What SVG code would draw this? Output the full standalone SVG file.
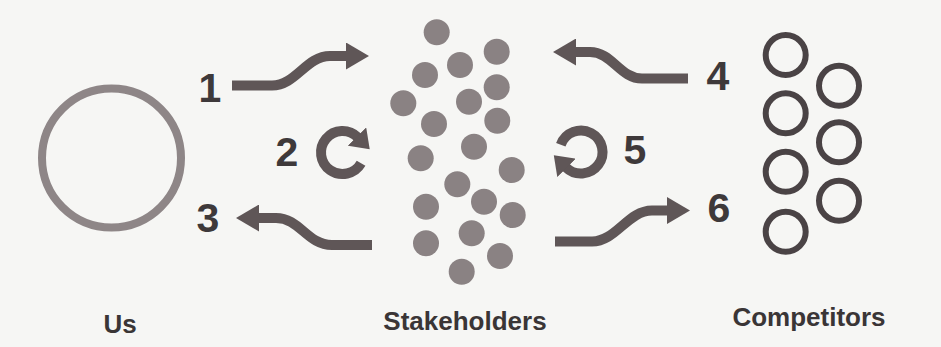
<svg xmlns="http://www.w3.org/2000/svg" width="941" height="347" viewBox="0 0 941 347">
  <defs>
    <style>
      .dot { fill: #8a8283; }
      .comp { fill: none; stroke: #4a4345; stroke-width: 6; }
      .flow { fill: none; stroke: #5f5657; stroke-width: 10; stroke-linecap: butt; }
      .num { font-family: "Liberation Sans", Arial, sans-serif; font-weight: bold; font-size: 41px; fill: #3e393a; text-anchor: middle; }
      .name { font-family: "Liberation Sans", Arial, sans-serif; font-weight: bold; font-size: 26px; fill: #3a3536; text-anchor: middle; }
    </style>
    <marker id="head" viewBox="0 0 23 27" refX="1" refY="13.5" markerWidth="23" markerHeight="27" markerUnits="userSpaceOnUse" orient="auto">
      <path d="M0,0 L23,13.5 L0,27 Z" fill="#5f5657"/>
    </marker>
    <marker id="headR" viewBox="0 0 18 26" refX="1" refY="13" markerWidth="18" markerHeight="26" markerUnits="userSpaceOnUse" orient="auto">
      <path d="M0,0 L18,13 L0,26 Z" fill="#5f5657"/>
    </marker>
  </defs>
  <rect x="0" y="0" width="941" height="347" fill="#f6f6f4"/>

  <g id="us">
    <circle cx="111.5" cy="158" r="69.5" fill="none" stroke="#8e8687" stroke-width="8"/>
    <text class="name" x="120" y="333">Us</text>
  </g>

  <g id="stakeholders">
    <circle class="dot" cx="436.7" cy="32.3" r="13"/>
    <circle class="dot" cx="496.7" cy="51.7" r="13"/>
    <circle class="dot" cx="460" cy="65" r="13"/>
    <circle class="dot" cx="425" cy="75" r="13"/>
    <circle class="dot" cx="496.7" cy="87.3" r="13"/>
    <circle class="dot" cx="403.3" cy="103.3" r="13"/>
    <circle class="dot" cx="469" cy="101.7" r="13"/>
    <circle class="dot" cx="497.3" cy="120.7" r="13"/>
    <circle class="dot" cx="434" cy="124" r="13"/>
    <circle class="dot" cx="474" cy="146.7" r="13"/>
    <circle class="dot" cx="420.7" cy="158.3" r="13"/>
    <circle class="dot" cx="511.7" cy="170" r="13"/>
    <circle class="dot" cx="457.3" cy="184.3" r="13"/>
    <circle class="dot" cx="484" cy="201.7" r="13"/>
    <circle class="dot" cx="426" cy="206.7" r="13"/>
    <circle class="dot" cx="512.7" cy="215" r="13"/>
    <circle class="dot" cx="471.7" cy="233.3" r="13"/>
    <circle class="dot" cx="426" cy="243.3" r="13"/>
    <circle class="dot" cx="500" cy="256" r="13"/>
    <circle class="dot" cx="461.7" cy="271.7" r="13"/>
    <text class="name" x="465" y="330">Stakeholders</text>
  </g>

  <g id="competitors">
    <circle class="comp" cx="785.7" cy="55" r="20"/>
    <circle class="comp" cx="785.7" cy="113.3" r="20"/>
    <circle class="comp" cx="785.7" cy="171.7" r="20"/>
    <circle class="comp" cx="785.7" cy="231.7" r="20"/>
    <circle class="comp" cx="839" cy="85.7" r="20"/>
    <circle class="comp" cx="839" cy="142.3" r="20"/>
    <circle class="comp" cx="839" cy="200.7" r="20"/>
    <text class="name" x="809" y="326">Competitors</text>
  </g>

  <g id="connectors">
    <path class="flow" d="M232,85.5 H272 C296,85.5 306,56 330,56 H347" marker-end="url(#head)"/>
    <path class="flow" d="M361.1,163.3 A21.5,21.5 0 1 1 357.7,137.3" marker-end="url(#headR)"/>
    <path class="flow" d="M372,245 H332 C307,245 300,218 276,218 H258" marker-end="url(#head)"/>
    <path class="flow" d="M688,78.5 H642 C620,78.5 612,52 590,52 H575" marker-end="url(#head)"/>
    <path class="flow" d="M560.8,144.7 A21.5,21.5 0 1 1 565.8,167.2" marker-end="url(#headR)"/>
    <path class="flow" d="M555,241.5 H592 C616,241.5 628,210.5 652,210.5 H668" marker-end="url(#head)"/>
  </g>

  <g id="labels">
    <text class="num" x="210" y="102">1</text>
    <text class="num" x="287" y="166">2</text>
    <text class="num" x="208" y="232">3</text>
    <text class="num" x="718" y="90">4</text>
    <text class="num" x="635" y="164">5</text>
    <text class="num" x="719" y="222">6</text>
  </g>
</svg>
